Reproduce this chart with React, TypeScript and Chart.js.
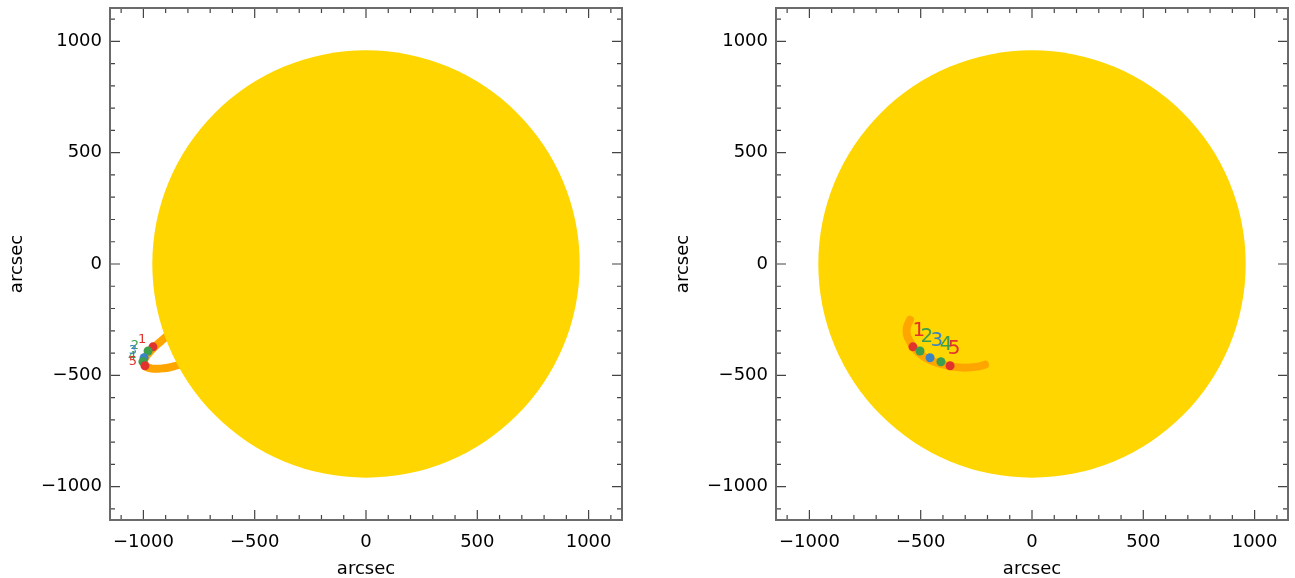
import React, { useEffect, useRef } from 'react';
import { Chart, registerables } from 'chart.js';

Chart.register(...registerables);

// ---------- data (arcsec) ----------
const AXIS_MIN = -1150;
const AXIS_MAX = 1150;
const MAJOR_TICKS = [-1000, -500, 0, 500, 1000];
const MINOR_TICKS = [-1100, -900, -800, -700, -600, -400, -300, -200, -100, 100, 200, 300, 400, 600, 700, 800, 900, 1100];
const SUN_RADIUS = 960;

const LABEL_TEXT = ['1', '2', '3', '4', '5'];
const DOT_Y = [-372, -391, -421, -439, -457];

// left panel (side view)
const LEFT_DOT_X = [-957, -979, -997, -1002, -993];
const LEFT_LOOP_X = [-764, -836, -872, -907, -939, -966, -988, -997, -988, -961, -925, -889, -854, -809, -764];
const LEFT_LOOP_Y = [-250, -276, -303, -335, -362, -389, -416, -439, -461, -470, -470, -466, -457, -444, -430];
const LEFT_LABEL_X = [-1006, -1038, -1047, -1051, -1047];
const LEFT_LABEL_Y = [-338, -368, -388, -414, -437];

// right panel (top view)
const RIGHT_DOT_X = [-535, -503, -458, -409, -368];
const RIGHT_LOOP_X = [-548, -562, -562, -548, -526, -499, -463, -413, -359, -301, -243, -211];
const RIGHT_LOOP_Y = [-250, -285, -317, -349, -381, -407, -430, -448, -461, -466, -461, -452];
const RIGHT_LABEL_X = [-508, -472, -427, -386, -350];
const RIGHT_LABEL_Y = [-298, -325, -347, -365, -383];

// ---------- styles ----------
const SUN_COLOR = '#FFD600';
const LOOP_COLOR = '#FFA500';
const DOT_COLORS = ['#E2322D', '#3D9E4B', '#3A84C6', '#3D9E4B', '#E2322D'];
const FONT = 'DejaVu Sans';

const fmt = (v: number | string) => {
  const n = Number(v);
  return n < 0 ? '\u2212' + Math.abs(n) : String(n);
};

type PanelProps = {
  left: number;
  width: number;
  loopX: number[];
  loopY: number[];
  dotX: number[];
  labelX: number[];
  labelY: number[];
  labelSize: number;
  diskOverLoop: boolean;
};

function Panel(props: PanelProps) {
  const ref = useRef<HTMLCanvasElement | null>(null);

  useEffect(() => {
    const canvas = ref.current;
    if (!canvas) return;
    const { width, loopX, loopY, dotX, labelX, labelY, labelSize, diskOverLoop } = props;

    const drawDisk = (chart: any) => {
      const xs = chart.scales.x;
      const ys = chart.scales.y;
      const cx = xs.getPixelForValue(0);
      const cy = ys.getPixelForValue(0);
      const r = xs.getPixelForValue(SUN_RADIUS) - cx;
      const ctx = chart.ctx;
      ctx.save();
      ctx.beginPath();
      ctx.arc(cx, cy, r, 0, Math.PI * 2);
      ctx.fillStyle = SUN_COLOR;
      ctx.fill();
      ctx.restore();
    };

    const plugin = {
      id: 'sunPanel',
      beforeDatasetsDraw(chart: any) {
        if (!diskOverLoop) drawDisk(chart);
      },
      afterDatasetDraw(chart: any, args: any) {
        if (diskOverLoop && args.index === 1) drawDisk(chart);
      },
      afterDatasetsDraw(chart: any) {
        const xs = chart.scales.x;
        const ys = chart.scales.y;
        const ctx = chart.ctx;
        ctx.save();
        ctx.font = `${labelSize}px "${FONT}"`;
        ctx.textAlign = 'center';
        ctx.textBaseline = 'middle';
        LABEL_TEXT.forEach((t, i) => {
          ctx.fillStyle = DOT_COLORS[i];
          ctx.fillText(t, xs.getPixelForValue(labelX[i]), ys.getPixelForValue(labelY[i]));
        });
        ctx.restore();
      },
      afterDraw(chart: any) {
        const xs = chart.scales.x;
        const ys = chart.scales.y;
        const ctx = chart.ctx;
        const { left, right, top, bottom } = chart.chartArea;
        ctx.save();
        ctx.strokeStyle = '#444';
        ctx.lineWidth = 1.2;
        const tick = (vals: number[], len: number) => {
          vals.forEach((v) => {
            const px = xs.getPixelForValue(v);
            const py = ys.getPixelForValue(v);
            ctx.beginPath();
            ctx.moveTo(px, bottom); ctx.lineTo(px, bottom - len);
            ctx.moveTo(px, top); ctx.lineTo(px, top + len);
            ctx.moveTo(left, py); ctx.lineTo(left + len, py);
            ctx.moveTo(right, py); ctx.lineTo(right - len, py);
            ctx.stroke();
          });
        };
        tick(MAJOR_TICKS, 10);
        tick(MINOR_TICKS, 5);
        ctx.strokeStyle = '#6a6a6a';
        ctx.lineWidth = 2;
        ctx.strokeRect(left, top, right - left, bottom - top);
        ctx.restore();
      },
    };

    const axisCommon = {
      type: 'linear' as const,
      min: AXIS_MIN,
      max: AXIS_MAX,
      grid: { display: false, drawTicks: false },
      border: { display: false },
      afterBuildTicks: (s: any) => {
        s.ticks = MAJOR_TICKS.map((v) => ({ value: v }));
      },
    };

    const chart = new Chart(canvas, {
      type: 'scatter',
      data: {
        datasets: [
          {
            type: 'scatter',
            data: dotX.map((x, i) => ({ x, y: DOT_Y[i] })),
            pointRadius: 4.5,
            pointBorderWidth: 0,
            pointBackgroundColor: DOT_COLORS,
            order: 0,
          } as any,
          {
            type: 'scatter',
            data: loopX.map((x, i) => ({ x, y: loopY[i] })),
            showLine: true,
            pointRadius: 0,
            borderColor: LOOP_COLOR,
            borderWidth: 8,
            borderCapStyle: 'round',
            borderJoinStyle: 'round',
            tension: 0.4,
            fill: false,
            order: 1,
          } as any,
        ],
      },
      options: {
        responsive: false,
        animation: false,
        events: [],
        layout: { padding: { left: 0, right: width - 622, top: 8, bottom: 0 } },
        plugins: { legend: { display: false }, tooltip: { enabled: false } },
        scales: {
          x: {
            ...axisCommon,
            position: 'bottom',
            afterFit: (s: any) => {
              s.height = 58;
              s.paddingLeft = 0;
              s.paddingRight = 0;
              s.paddingTop = 0;
              s.paddingBottom = 0;
            },
            ticks: {
              callback: fmt,
              font: { family: FONT, size: 18 },
              color: '#000',
              padding: 12,
              maxRotation: 0,
              autoSkip: false,
            },
            title: {
              display: true,
              text: 'arcsec',
              color: '#000',
              font: { family: FONT, size: 18, lineHeight: 1 },
              padding: { top: 0, bottom: 0 },
            },
          } as any,
          y: {
            ...axisCommon,
            position: 'left',
            afterFit: (s: any) => {
              s.width = 110;
              s.paddingLeft = 0;
              s.paddingRight = 0;
              s.paddingTop = 0;
              s.paddingBottom = 0;
            },
            ticks: {
              callback: fmt,
              font: { family: FONT, size: 18 },
              color: '#000',
              padding: 8,
              autoSkip: false,
            },
            title: {
              display: true,
              text: 'arcsec',
              color: '#000',
              font: { family: FONT, size: 18, lineHeight: 1 },
              padding: { top: 8, bottom: 0 },
            },
          } as any,
        },
      },
      plugins: [plugin],
    });

    return () => chart.destroy();
  }, []);

  return (
    <canvas
      ref={ref}
      width={props.width}
      height={578}
      style={{ position: 'absolute', left: props.left, top: 0, width: props.width, height: 578 }}
    />
  );
}

export default function App() {
  return (
    <div style={{ position: 'absolute', left: 0, top: 0, width: 1295, height: 578, background: '#fff', overflow: 'hidden' }}>
      <Panel
        left={0}
        width={640}
        loopX={LEFT_LOOP_X}
        loopY={LEFT_LOOP_Y}
        dotX={LEFT_DOT_X}
        labelX={LEFT_LABEL_X}
        labelY={LEFT_LABEL_Y}
        labelSize={13}
        diskOverLoop={true}
      />
      <Panel
        left={666}
        width={629}
        loopX={RIGHT_LOOP_X}
        loopY={RIGHT_LOOP_Y}
        dotX={RIGHT_DOT_X}
        labelX={RIGHT_LABEL_X}
        labelY={RIGHT_LABEL_Y}
        labelSize={20}
        diskOverLoop={false}
      />
    </div>
  );
}
